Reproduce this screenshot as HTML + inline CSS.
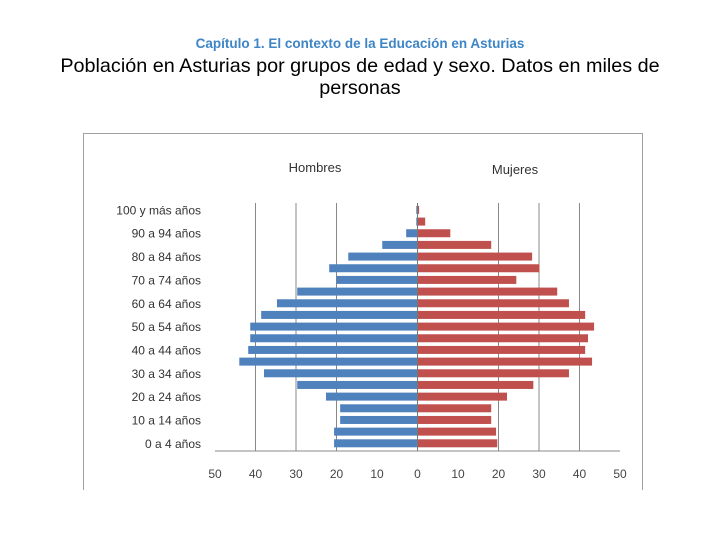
<!DOCTYPE html>
<html><head><meta charset="utf-8"><style>
body{margin:0;background:#fff;width:720px;height:540px;overflow:hidden;position:relative;font-family:"Liberation Sans",sans-serif}
.t{position:absolute;left:0;width:720px;text-align:center}
</style></head><body>
<div class="t" style="top:36px;font-size:13.5px;font-weight:bold;color:#3d85c6">Capítulo 1. El contexto de la Educación en Asturias</div>
<div class="t" style="top:55px;font-size:19.8px;line-height:22px;color:#000">Población en Asturias por grupos de edad y sexo. Datos en miles de<br>personas</div>
<svg width="720" height="540" style="position:absolute;left:0;top:0">
<path d="M83.5,490 V133.5 H642.5 V490" fill="none" stroke="#a0a0a0"/>
<text x="315" y="172" font-size="13" fill="#333" text-anchor="middle" font-family="Liberation Sans">Hombres</text>
<text x="515" y="174" font-size="13" fill="#333" text-anchor="middle" font-family="Liberation Sans">Mujeres</text>
<g id="g"></g>
</svg>
<script>
const categories=["0 a 4 años","5 a 9 años","10 a 14 años","15 a 19 años","20 a 24 años","25 a 29 años","30 a 34 años","35 a 39 años","40 a 44 años","45 a 49 años","50 a 54 años","55 a 59 años","60 a 64 años","65 a 69 años","70 a 74 años","75 a 79 años","80 a 84 años","85 a 89 años","90 a 94 años","95 a 99 años","100 y más años"];
const hombres=[20.6,20.6,19.1,19.1,22.6,29.7,37.9,44.0,41.8,41.3,41.3,38.6,34.7,29.7,20.0,21.8,17.1,8.7,2.8,0.3,0.3];
const mujeres=[19.7,19.4,18.2,18.2,22.1,28.6,37.4,43.1,41.4,42.1,43.6,41.4,37.4,34.5,24.4,30.1,28.3,18.2,8.1,1.9,0.4];
const ticks=[-50,-40,-30,-20,-10,0,10,20,30,40,50];
const gridVals=[-40,-30,-20,20,30,40];
const NS="http://www.w3.org/2000/svg",g=document.getElementById('g');
const x=v=>417.5+v*4.05;
const y=i=>443.3-i*11.67;
function mk(t,a){const e=document.createElementNS(NS,t);for(const k in a)e.setAttribute(k,a[k]);g.appendChild(e);return e;}
gridVals.forEach(v=>{const e=mk('line',{x1:x(v),x2:x(v),y1:203,y2:451,stroke:'#888','stroke-width':1});

});
categories.forEach((c,i)=>{
 const b1=mk('rect',{x:x(-hombres[i]),y:y(i)-4,width:x(0)-x(-hombres[i]),height:8,fill:'#4f81bd'});
 
 
 const b2=mk('rect',{x:x(0),y:y(i)-4,width:x(mujeres[i])-x(0),height:8,fill:'#c0504d'});
 
 
 if(i%2==0){const t=mk('text',{x:201,y:y(i)+4.5,'font-size':12,fill:'#333','text-anchor':'end','font-family':'Liberation Sans'});t.textContent=c;
 
 }
});
const z=mk('line',{x1:x(0),x2:x(0),y1:203,y2:451,stroke:'#777','stroke-width':1});


const ax=mk('line',{x1:215,x2:620,y1:451,y2:451,stroke:'#888','stroke-width':1});


ticks.forEach(v=>{const t=mk('text',{x:x(v),y:478,'font-size':12,fill:'#444','text-anchor':'middle','font-family':'Liberation Sans'});t.textContent=Math.abs(v);

});
</script>
</body></html>
